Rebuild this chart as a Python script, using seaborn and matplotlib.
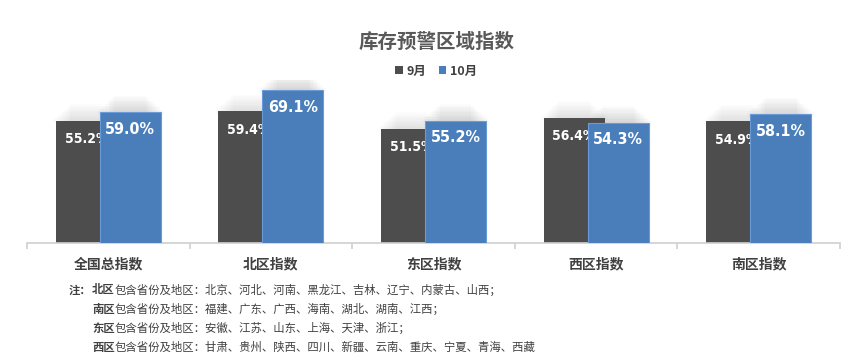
import matplotlib
matplotlib.use("Agg")
import matplotlib.pyplot as plt
import seaborn as sns
import pandas as pd
from matplotlib.patches import Patch, Rectangle

categories = ["全国总指数", "北区指数", "东区指数", "西区指数", "南区指数"]
sep_values = [55.2, 59.4, 51.5, 56.4, 54.9]
oct_values = [59.0, 69.1, 55.2, 54.3, 58.1]
series = ["9月", "10月"]
title = "库存预警区域指数"
notes = [
    ("注：", "北区", "包含省份及地区：北京、河北、河南、黑龙江、吉林、辽宁、内蒙古、山西；"),
    ("", "南区", "包含省份及地区：福建、广东、广西、海南、湖北、湖南、江西；"),
    ("", "东区", "包含省份及地区：安徽、江苏、山东、上海、天津、浙江；"),
    ("", "西区", "包含省份及地区：甘肃、贵州、陕西、四川、新疆、云南、重庆、宁夏、青海、西藏"),
]

sns.set_theme(style="white")
plt.rcParams['font.family'] = ['Noto Sans CJK SC', 'DejaVu Sans']

df = pd.DataFrame({
    "cat": categories * 2,
    "val": sep_values + oct_values,
    "month": [series[0]] * len(categories) + [series[1]] * len(categories),
})

colors = {"9月": "#4d4d4d", "10月": "#4a7ebb"}
fig = plt.figure(figsize=(8.65, 3.61), dpi=100)
ax = fig.add_axes([27 / 865, 1 - 243 / 361, (840 - 27) / 865, (243 - 80) / 361])
sns.barplot(data=df, x="cat", y="val", hue="month", palette=colors, ax=ax,
            width=0.6, dodge=True, legend=False, saturation=1)

# rearrange into overlapping bars (Excel style overlap)
bw = 0.375
off = 0.135
n = len(categories)
bars = list(ax.patches[:2 * n])
for p in bars:
    cx = p.get_x() + p.get_width() / 2
    idx = int(round(cx))
    is_oct = cx > idx
    center = idx + (off if is_oct else -off)
    p.set_x(center - bw / 2)
    p.set_width(bw)
    p.set_linewidth(0.8 if is_oct else 0)
    p.set_edgecolor("#6a9bd8" if is_oct else "#4d4d4d")
    p.set_zorder(4 if is_oct else 2)
    p.is_oct = is_oct

# soft glow shadow above bar tops
for p in bars:
    x0, w, h = p.get_x(), p.get_width(), p.get_height()
    a = 0.016 if p.is_oct else 0.01
    for k in range(1, 11):
        s = 0.012 * k - 0.03
        dy = 0.75 * k
        ax.add_patch(Rectangle((x0 + s, h - 1), w - 2 * s, 1 + dy, facecolor="black",
                               edgecolor="none", alpha=a, zorder=1))

lab_kw = dict(family="DejaVu Sans", fontstretch="condensed", fontweight="bold", color="white",
              ha="center", va="top", textcoords="offset points")
for i in range(n):
    ax.annotate(f"{sep_values[i]:.1f}%", (i - off, sep_values[i]), xytext=(0, -8),
                fontsize=10, zorder=3, **lab_kw)
    ax.annotate(f"{oct_values[i]:.1f}%", (i + off, oct_values[i]), xytext=(0, -7),
                fontsize=11.5, zorder=5, **lab_kw)

ax.set_xlim(-0.5, n - 0.5)
ax.set_ylim(0, 73.6)
ax.set_xlabel("")
ax.set_ylabel("")
ax.set_yticks([])
for s in ["left", "right", "top"]:
    ax.spines[s].set_visible(False)
ax.spines["bottom"].set_color("#d0d0d0")
ax.spines["bottom"].set_linewidth(1.2)
ax.set_xticks(range(n))
ax.set_xticklabels(categories, fontsize=10, fontweight="bold", color="#404040")
ax.set_xticks([x - 0.5 for x in range(n + 1)], minor=True)
ax.tick_params(axis="x", which="major", length=0, pad=10)
ax.tick_params(axis="x", which="minor", length=4, color="#d0d0d0", width=1.2, direction="out", bottom=True)

fig.text(437 / 865, 1 - 42 / 361, title, ha="center", va="center", fontsize=14,
         fontweight="bold", color="#595959")

handles = [Patch(facecolor=colors[s], edgecolor="none", label=s) for s in series]
leg = fig.legend(handles=handles, loc="center", bbox_to_anchor=(436 / 865, 1 - 71 / 361),
                 ncol=2, frameon=False, handlelength=0.6, handleheight=0.6,
                 handletextpad=0.3, columnspacing=1.0,
                 prop={"size": 9, "weight": "bold", "family": ['Noto Sans CJK SC', 'DejaVu Sans']})
for t in leg.get_texts():
    t.set_color("#404040")

fig.canvas.draw()
renderer = fig.canvas.get_renderer()
ys = [290, 309, 328, 347]
fs = 8.2
for (pre, bold, rest), y in zip(notes, ys):
    yf = 1 - y / 361
    if pre:
        fig.text(91 / 865, yf, pre, ha="right", va="center", fontsize=fs, fontweight="bold", color="#404040")
    tb = fig.text(92 / 865, yf, bold, ha="left", va="center", fontsize=fs, fontweight="bold", color="#404040")
    bb = tb.get_window_extent(renderer)
    fig.text(bb.x1 / fig.bbox.width, yf, rest, ha="left", va="center", fontsize=fs, color="#404040")

fig.savefig("out.png", dpi=100)
